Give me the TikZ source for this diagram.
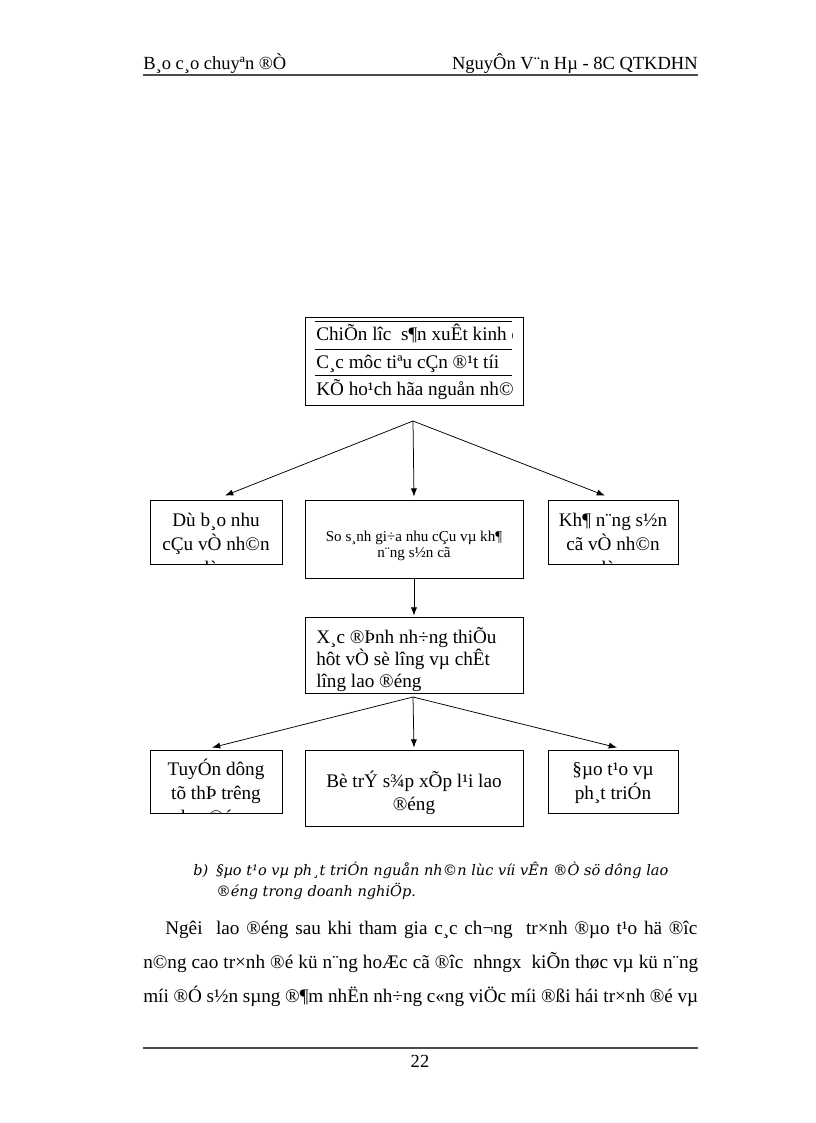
\documentclass[tikz,border=0pt]{standalone}
\usepackage{fontspec}
\setmainfont{Liberation Serif}
\newfontfamily\capfont{DejaVu Serif}
\usetikzlibrary{arrows.meta,calc,fit}
\begin{document}
\begin{tikzpicture}[x=0.7293pt,y=-0.7293pt,
  box/.style={draw=black, line width=0.6pt, inner sep=0pt},
  conn/.style={line width=0.55pt, -{Latex[length=6pt,width=4.5pt]}},
  t14/.style={font=\fontsize{14}{17}\selectfont, inner sep=0pt},
  t11/.style={font=\fontsize{11}{13}\selectfont, inner sep=0pt},
  hdr/.style={font=\fontsize{13.5}{16}\selectfont, inner sep=0pt},
  captxt/.style={font=\capfont\fontsize{10.6}{13}\selectfont\itshape, inner sep=0pt},
  rulel/.style={draw=black!70, line width=1.2pt}]
\useasboundingbox (0,0) rectangle (816,1123);

% header
\node[hdr, anchor=base west] (hl) at (143,69) {B¸o c¸o chuyªn ®Ò};
\node[hdr, anchor=base east] (hr) at (698,69) {NguyÔn V¨n Hµ - 8C QTKDHN};
\draw[rulel] (143,75) -- (698,75);

% boxes
\node[box, fit={(305,317) (523,405)}] (top) {};
\node[box, fit={(150,500) (282,564)}] (b1l) {};
\node[box, fit={(305,500) (523,578)}] (b1c) {};
\node[box, fit={(548,500) (678,564)}] (b1r) {};
\node[box, fit={(305,617) (523,693)}] (b3) {};
\node[box, fit={(150,750) (282,813)}] (b2l) {};
\node[box, fit={(305,750) (523,826)}] (b2c) {};
\node[box, fit={(548,750) (678,813)}] (b2r) {};

% top box content
\draw[line width=0.6pt] (315,321) -- (512,321) (315,349) -- (512,349) (315,375) -- (512,375);
\begin{scope}
\clip (315,317) rectangle (512,405);
\node[t14, anchor=base west] (ta) at (316,340) {ChiÕn lîc\ \ s¶n xuÊt kinh doanh};
\node[t14, anchor=base west] (tb) at (316,368) {C¸c môc tiªu\ cÇn ®¹t tíi};
\node[t14, anchor=base west] (tc) at (316,395) {KÕ ho¹ch hãa nguån nh©n lùc};
\end{scope}

% row 1
\begin{scope}
\clip (b1l.south west) rectangle (b1l.north east);
\node[t14, anchor=base] (l1a) at (216,526) {Dù b¸o nhu};
\node[t14, anchor=base] (l1b) at (216,550) {cÇu vÒ nh©n};
\node[t14, anchor=base] (l1c) at (216,574) {lùc};
\end{scope}
\node[t11, anchor=base] (c1a) at (414,541) {So s¸nh\ gi÷a\ nhu\ cÇu\ vµ\ kh¶};
\node[t11, anchor=base] (c1b) at (414,557) {n¨ng\ s½n cã};
\begin{scope}
\clip (b1r.south west) rectangle (b1r.north east);
\node[t14, anchor=base] (r1a) at (613,526) {Kh¶ n¨ng s½n};
\node[t14, anchor=base] (r1b) at (613,550) {cã vÒ nh©n};
\node[t14, anchor=base] (r1c) at (613,574) {lùc};
\end{scope}

% box 3
\node[t14, anchor=base west] (m1) at (316,643) {X¸c ®Þnh nh÷ng thiÕu};
\node[t14, anchor=base west] (m2) at (316,665) {hôt vÒ sè lîng\ vµ chÊt};
\node[t14, anchor=base west] (m3) at (316,687) {lîng\ lao ®éng};

% row 2
\begin{scope}
\clip (b2l.south west) rectangle (b2l.north east);
\node[t14, anchor=base] (l2a) at (216,775) {TuyÓn dông};
\node[t14, anchor=base] (l2b) at (216,799) {tõ thÞ trêng};
\node[t14, anchor=base] (l2c) at (216,823) {lao ®éng};
\end{scope}
\node[t14, anchor=base] (c2a) at (414,787) {Bè trÝ s¾p xÕp l¹i lao};
\node[t14, anchor=base] (c2b) at (414,810) {®éng};
\node[t14, anchor=base] (r2a) at (613,775) {§µo t¹o vµ};
\node[t14, anchor=base] (r2b) at (613,799) {ph¸t triÓn};

% connectors
\coordinate (apex1) at (413,421);
\draw[conn] (apex1) -- ($(b1l.north)+(9,-4)$);
\draw[conn] (apex1) -- ($(b1c.north)+(0,-3)$);
\draw[conn] (apex1) -- ($(b1r.north)+(-8,-4)$);
\draw[conn] (b1c.south) -- ($(b3.north)+(0,-1)$);
\coordinate (apex2) at (413,697);
\draw[conn] (apex2) -- ($(b2l.north)+(-4,-2)$);
\draw[conn] (apex2) -- ($(b2c.north)+(0,-2)$);
\draw[conn] (apex2) -- ($(b2r.north)+(4,-2)$);

% caption
\node[captxt, anchor=base west] (cb) at (193,875) {b)};
\node[captxt, anchor=base west] (c1) at (216,875) {§µo t¹o vµ ph¸t triÓn nguån nh©n lùc víi vÊn ®Ò sö dông lao};
\node[captxt, anchor=base west] (c2) at (216,896) {®éng trong doanh nghiÖp.};

% body
\node[t14, anchor=base west] (p1) at (165,934) {\makebox[532\dimexpr0.7293pt\relax][s]{Ngêi\ \ lao ®éng sau khi tham gia c¸c ch¬ng\ \ tr×nh ®µo t¹o hä ®îc}};
\node[t14, anchor=base west] (p2) at (143,968) {\makebox[555\dimexpr0.7293pt\relax][s]{n©ng cao tr×nh ®é kü n¨ng hoÆc cã ®îc\ \ nhngx\ \ kiÕn thøc vµ kü n¨ng}};
\node[t14, anchor=base west] (p3) at (143,1002) {\makebox[555\dimexpr0.7293pt\relax][s]{míi ®Ó s½n sµng ®¶m nhËn nh÷ng c«ng viÖc míi ®ßi hái tr×nh ®é vµ}};

% footer
\draw[rulel] (143,1048) -- (698,1048);
\node[hdr, anchor=base] (pg) at (420,1067) {22};
\end{tikzpicture}
\end{document}
